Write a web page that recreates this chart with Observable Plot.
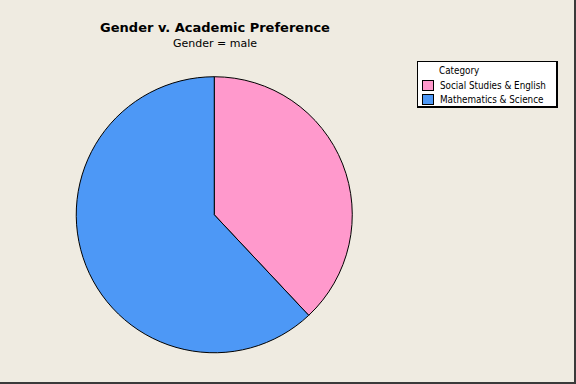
<!DOCTYPE html>
<html><head><meta charset="utf-8">
<script src="https://cdn.jsdelivr.net/npm/d3@7"></script>
<script src="https://cdn.jsdelivr.net/npm/@observablehq/plot@0.6"></script>
<style>
body{margin:0;background:#fff;}
#wrap{position:relative;width:576px;height:384px;background:#EFEBE1;overflow:hidden;box-sizing:border-box;border-right:2px solid #3a3a3a;border-bottom:2px solid #3a3a3a;font-family:"DejaVu Sans",sans-serif;}
#wrap svg{position:absolute;left:0;top:0;}
.t{position:absolute;white-space:nowrap;color:#000;}
#title{left:0;width:430px;text-align:center;top:20px;font-size:13px;font-weight:bold;font-family:"DejaVu Sans",sans-serif;}
#subtitle{left:0;width:430px;text-align:center;top:37px;font-size:11px;font-family:"DejaVu Sans",sans-serif;}
#legend{position:absolute;left:417px;top:61px;width:141px;height:47px;box-sizing:border-box;background:#fff;border:1px solid #000;border-right:2px solid #000;border-bottom:2px solid #000;font-family:"DejaVu Sans Condensed","DejaVu Sans",sans-serif;font-size:9.8px;}
#legend .row{position:absolute;left:4px;white-space:nowrap;}
#legend .sw{display:inline-block;width:10px;height:9px;border:1px solid #000;vertical-align:top;margin-right:6px;}
</style></head><body><div id="wrap"></div>
<script>
const title = "Gender v. Academic Preference";
const subtitle = "Gender = male";
const legendTitle = "Category";
const categories = ["Social Studies & English", "Mathematics & Science"];
const values = [38, 62];
const colors = ["#FF99CC", "#4D98F6"];

const data = categories.map((c, i) => ({category: c, value: values[i]}));

const pieMark = (index, scales, vals, dims) => {
  const sx = scales.x ?? d3.scaleLinear([-1, 1], [76.5, 353.5]);
  const sy = scales.y ?? d3.scaleLinear([-1, 1], [354, 77]);
  const cx = sx(0), cy = sy(0);
  const r = Math.abs(sx(1) - sx(0));
  const color = scales.color ?? d3.scaleOrdinal(categories, colors);
  const arcs = d3.pie().sort(null).value(d => d.value)(data);
  const arc = d3.arc().innerRadius(0).outerRadius(r);
  const g = d3.create("svg:g").attr("transform", `translate(${cx},${cy})`);
  g.selectAll("path").data(arcs).join("path")
    .attr("d", arc)
    .attr("fill", d => color(d.data.category))
    .attr("stroke", "#000")
    .attr("stroke-width", 1)
    .attr("stroke-linejoin", "round");
  return g.node();
};

const plot = Plot.plot({
  width: 576,
  height: 384,
  margin: 0,
  style: {background: "transparent"},
  x: {domain: [-1, 1], range: [76.5, 353.5], axis: null},
  y: {domain: [-1, 1], range: [354, 77], axis: null},
  color: {domain: categories, range: colors},
  marks: [
    Plot.dot([{x: 0, y: 0, c: categories[0]}], {x: "x", y: "y", r: 0, fill: "c", stroke: null}),
    pieMark
  ]
});

const wrap = document.getElementById("wrap");
wrap.appendChild(plot);

const t = document.createElement("div");
t.id = "title"; t.className = "t"; t.textContent = title; wrap.appendChild(t);
const st = document.createElement("div");
st.id = "subtitle"; st.className = "t"; st.textContent = subtitle; wrap.appendChild(st);

const lg = document.createElement("div");
lg.id = "legend";
const lt = document.createElement("div");
lt.className = "row"; lt.style.left = "21px"; lt.style.top = "3px"; lt.textContent = legendTitle;
lg.appendChild(lt);
categories.forEach((c, i) => {
  const row = document.createElement("div");
  row.className = "row";
  row.style.top = (18 + i * 14) + "px";
  const sw = document.createElement("span");
  sw.className = "sw"; sw.style.background = colors[i];
  row.appendChild(sw);
  row.appendChild(document.createTextNode(c));
  lg.appendChild(row);
});
wrap.appendChild(lg);
</script>
</body></html>
